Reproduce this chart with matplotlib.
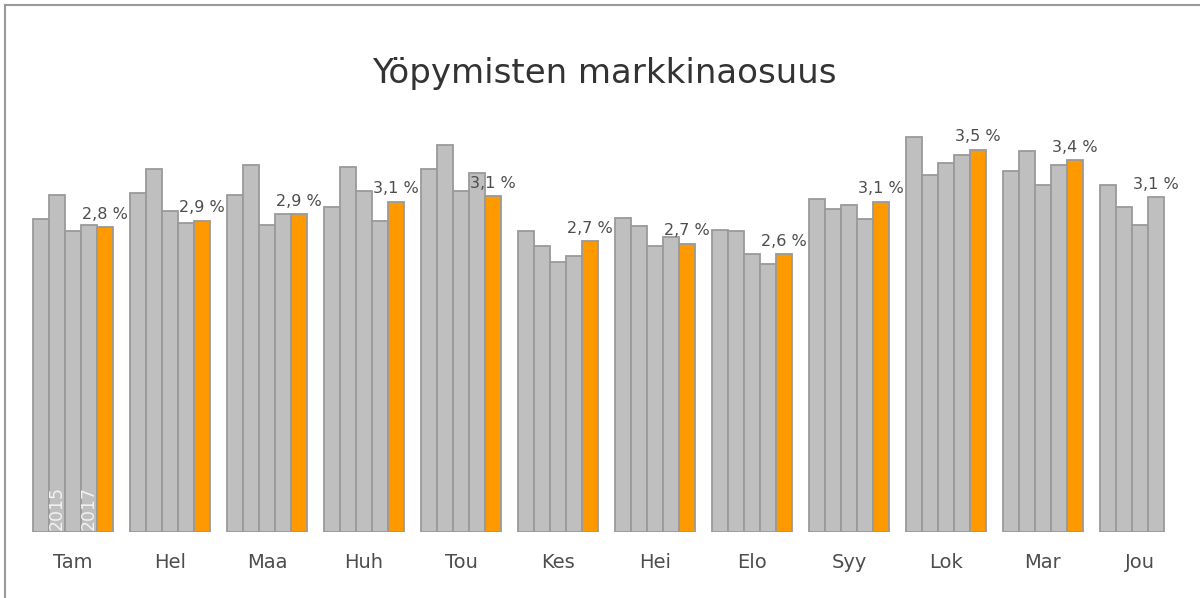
import numpy as np
import matplotlib
matplotlib.use("Agg")
import matplotlib.pyplot as plt
from matplotlib.lines import Line2D

months = ["Tam", "Hel", "Maa", "Huh", "Tou", "Kes",
          "Hei", "Elo", "Syy", "Lok", "Mar", "Jou"]
years = ["2014", "2015", "2016", "2017", "2018"]

# market share %, one list per year (2018 has no December yet)
share_2014 = [2.90, 3.14, 3.12, 3.01, 3.36, 2.79, 2.91, 2.80, 3.08, 3.66, 3.34, 3.21]
share_2015 = [3.12, 3.36, 3.40, 3.38, 3.58, 2.65, 2.83, 2.79, 2.99, 3.31, 3.53, 3.01]
share_2016 = [2.79, 2.97, 2.84, 3.16, 3.16, 2.50, 2.65, 2.57, 3.03, 3.42, 3.21, 2.84]
share_2017 = [2.84, 2.86, 2.94, 2.88, 3.32, 2.56, 2.73, 2.48, 2.90, 3.49, 3.40, 3.10]
share_2018 = [2.82, 2.88, 2.94, 3.06, 3.11, 2.69, 2.67, 2.57, 3.06, 3.54, 3.44, np.nan]
series = [share_2014, share_2015, share_2016, share_2017, share_2018]

labelled_years = ["2015", "2017"]

GRAY = "#BFBFBF"
EDGE = "#9A9A9A"
ORANGE = "#FF9900"
TEXT = "#4D4D4D"


def main():
    fig = plt.figure(figsize=(12, 5.98), dpi=100)
    ax = fig.add_axes([0, 66 / 598, 1, 432 / 598])

    x = np.arange(len(months))
    w = 0.165
    for j, vals in enumerate(series):
        color = ORANGE if j == len(series) - 1 else GRAY
        ax.bar(x + (j - 2) * w, vals, width=w, color=color,
               edgecolor=EDGE, linewidth=1.3, zorder=2)

    # value label above the latest available bar of each month
    for i in range(len(months)):
        for j in range(len(series) - 1, -1, -1):
            v = series[j][i]
            if not np.isnan(v):
                ax.annotate(f"{v:.1f} %".replace(".", ","),
                            (x[i] + (j - 2) * w, v), xytext=(0, 4),
                            textcoords="offset points", ha="center",
                            va="bottom", fontsize=11.5, color=TEXT)
                break

    # year names written inside the first group
    for yr in labelled_years:
        j = years.index(yr)
        ax.text(x[0] + (j - 2) * w, 0.02, yr, rotation=90, ha="center",
                va="bottom", fontsize=12.5, color="#F2F2F2", zorder=3)

    ax.set_xlim(-73 / 97, (1200 - 73) / 97)
    ax.set_ylim(0, 4)
    ax.set_xticks(x)
    ax.set_xticklabels(months, fontsize=14, color=TEXT)
    ax.tick_params(axis="x", length=0, pad=15)
    ax.set_yticks([])
    for s in ax.spines.values():
        s.set_visible(False)

    fig.text(604 / 1200, 1 - 74 / 598, "Yöpymisten markkinaosuus",
             ha="center", va="center", fontsize=24.5, color="#333333")

    # outer frame (top and left edges visible)
    fig.add_artist(Line2D([5 / 1200, 5 / 1200], [0, 1 - 5 / 598],
                          transform=fig.transFigure, color="#9A9A9A", lw=1.5))
    fig.add_artist(Line2D([5 / 1200, 1], [1 - 5 / 598, 1 - 5 / 598],
                          transform=fig.transFigure, color="#9A9A9A", lw=1.5))

    fig.savefig("out.png", dpi=100, facecolor="white")


if __name__ == "__main__":
    main()
